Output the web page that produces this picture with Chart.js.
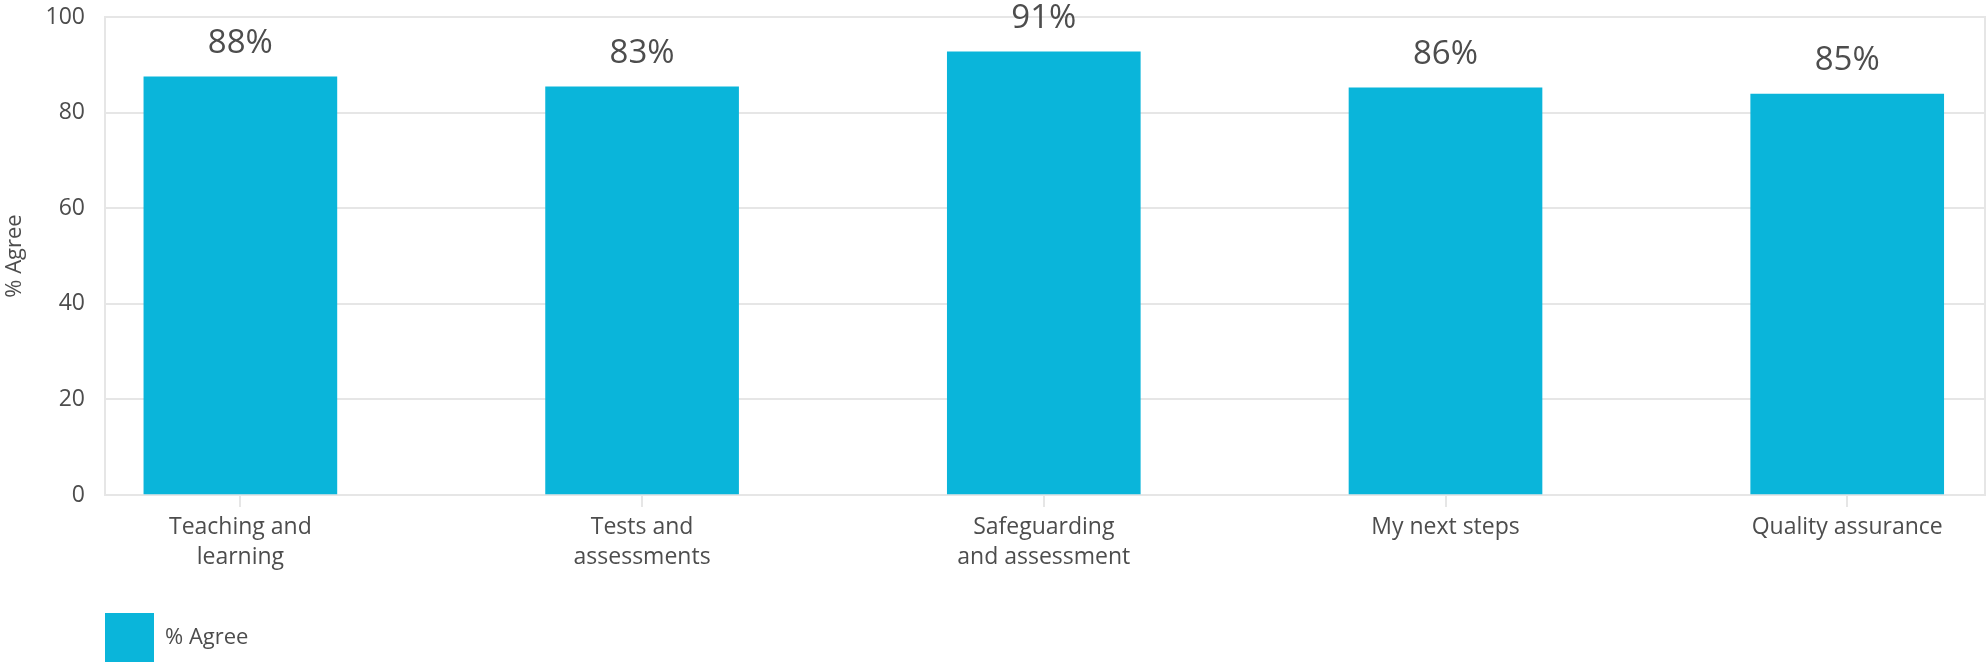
<!DOCTYPE html>
<html>
<head>
<meta charset="utf-8">
<script src="https://cdn.jsdelivr.net/npm/chart.js@4/dist/chart.umd.min.js"></script>
<style>
  html, body { margin: 0; padding: 0; background: #ffffff; overflow: hidden; }
  #wrap { width: 1988px; height: 662px; overflow: hidden; }
</style>
</head>
<body>
<div id="wrap"><canvas id="c" width="1988" height="672"></canvas></div>
<script>
// ---- data ----
const categories = [
  ['Teaching and', 'learning'],
  ['Tests and', 'assessments'],
  ['Safeguarding', 'and assessment'],
  'My next steps',
  'Quality assurance'
];
const agreeValues = [87.5, 85.4, 92.7, 85.2, 83.9];
const valueLabels = ['88%', '83%', '91%', '86%', '85%'];
const seriesName = '% Agree';
const yTicks = [0, 20, 40, 60, 80, 100];

// ---- styles ----
const BAR = '#0ab5da';
const GRID = '#e6e6e6';
const TEXT = '#4d4d4d';
const FONT = "'Open Sans', 'Noto Sans', sans-serif";

const valueLabelPlugin = {
  id: 'valueLabels',
  afterDatasetsDraw(chart) {
    const meta = chart.getDatasetMeta(0);
    const ctx = chart.ctx;
    ctx.save();
    ctx.font = '33px ' + FONT;
    ctx.fillStyle = TEXT;
    ctx.textAlign = 'center';
    ctx.textBaseline = 'alphabetic';
    meta.data.forEach((bar, i) => {
      ctx.fillText(valueLabels[i], bar.x, bar.y - 24);
    });
    ctx.restore();
  }
};

new Chart(document.getElementById('c'), {
  type: 'bar',
  data: {
    datasets: [{
      label: seriesName,
      data: categories.map((c, i) => ({ x: i, y: agreeValues[i] })),
      backgroundColor: BAR,
      borderWidth: 0,
      barThickness: 193
    }]
  },
  options: {
    responsive: false,
    animation: false,
    devicePixelRatio: 1,
    layout: { padding: 0 },
    plugins: {
      tooltip: { enabled: false },
      legend: {
        display: true,
        position: 'bottom',
        align: 'start',
        fullSize: false,
        labels: {
          boxWidth: 49,
          boxHeight: 49,
          padding: 0,
          color: TEXT,
          font: { family: FONT, size: 22 }
        }
      }
    },
    scales: {
      x: {
        type: 'linear',
        offset: false,
        min: -0.337,
        max: 4.343,
        afterFit: (s) => { s.height = 118; },
        ticks: {
          stepSize: 1,
          includeBounds: false,
          autoSkip: false,
          maxRotation: 0,
          minRotation: 0,
          padding: 6,
          color: TEXT,
          font: { family: FONT, size: 23, lineHeight: 1.3 },
          callback: (v) => Number.isInteger(v) && categories[v] !== undefined ? categories[v] : ''
        },
        grid: {
          offset: false,
          drawOnChartArea: false,
          drawTicks: true,
          tickLength: 12,
          color: GRID,
          lineWidth: 2
        },
        border: { display: true, color: GRID, width: 2 }
      },
      y: {
        position: 'left',
        min: 0,
        max: 100,
        afterFit: (s) => { s.width = 105; s.paddingTop = 17; },
        afterBuildTicks: (s) => { s.ticks = yTicks.map(v => ({ value: v })); },
        ticks: {
          padding: 20,
          color: TEXT,
          font: { family: FONT, size: 23 }
        },
        grid: {
          color: GRID,
          lineWidth: 2,
          drawTicks: false
        },
        border: { display: true, color: GRID, width: 2 },
        title: {
          display: true,
          text: seriesName,
          color: TEXT,
          padding: { top: 2, bottom: 0 },
          font: { family: FONT, size: 22 }
        }
      },
      y2: {
        position: 'right',
        min: 0,
        max: 100,
        afterFit: (s) => { s.width = 3; },
        ticks: { display: false },
        grid: { drawOnChartArea: false, drawTicks: false },
        border: { display: true, color: GRID, width: 2 }
      }
    }
  },
  plugins: [valueLabelPlugin]
});
</script>
</body>
</html>
